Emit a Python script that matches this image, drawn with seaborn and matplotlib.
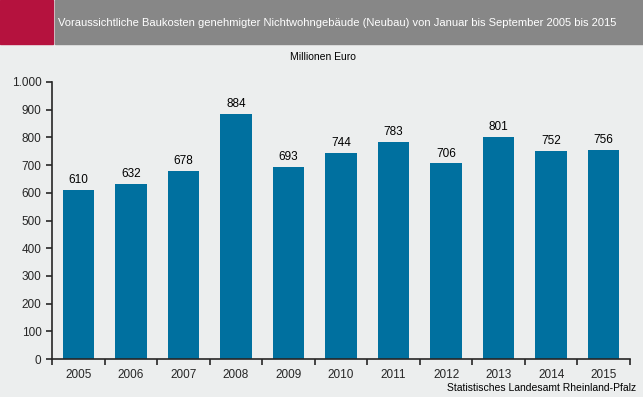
import matplotlib
matplotlib.use("Agg")
import matplotlib.pyplot as plt
import seaborn as sns
import pandas as pd
from matplotlib.patches import Rectangle
from matplotlib.ticker import FixedLocator

years = ["2005", "2006", "2007", "2008", "2009", "2010", "2011", "2012", "2013", "2014", "2015"]
values = [610, 632, 678, 884, 693, 744, 783, 706, 801, 752, 756]
y_ticks = list(range(0, 1001, 100))

title = "Voraussichtliche Baukosten genehmigter Nichtwohngebäude (Neubau) von Januar bis September 2005 bis 2015"
unit = "Millionen Euro"
source = "Statistisches Landesamt Rheinland-Pfalz"

bg = "#eceeee"
bar_color = "#00709f"

sns.set_style("ticks")
plt.rcParams["font.family"] = ["Liberation Sans", "DejaVu Sans"]

fig = plt.figure(figsize=(6.43, 3.97), dpi=100, facecolor=bg)
W, H = 643, 397

# header band
fig.patches.append(Rectangle((0, 1 - 44 / H), 53 / W, 44 / H, transform=fig.transFigure,
                             color="#b5123e", zorder=0))
fig.patches.append(Rectangle((55 / W, 1 - 44 / H), 1 - 55 / W, 44 / H, transform=fig.transFigure,
                             color="#878787", zorder=0))
fig.text(58 / W, 1 - 23 / H, title, color="white", fontsize=8.0, va="center", ha="left")
fig.text(323 / W, 1 - 57 / H, unit, color="black", fontsize=7.5, va="center", ha="center")
fig.text(636 / W, 1 - 388 / H, source, color="black", fontsize=7.5, va="center", ha="right")

ax = fig.add_axes([52 / W, 1 - 359 / H, (630 - 52) / W, (359 - 82) / H])
ax.set_facecolor(bg)

df = pd.DataFrame({"Jahr": years, "Wert": values})
sns.barplot(data=df, x="Jahr", y="Wert", color=bar_color, saturation=1, width=0.6,
            linewidth=0, edgecolor=bar_color, ax=ax)

for i, v in enumerate(values):
    ax.text(i, v + 14, str(v), ha="center", va="bottom", fontsize=8.5, color="black")

ax.set_xlim(-0.5, len(years) - 0.5)
ax.set_ylim(0, 1000)
ax.set_yticks(y_ticks)
ax.set_yticklabels([f"{t:,}".replace(",", ".") for t in y_ticks], fontsize=8.5)
ax.tick_params(axis="x", which="major", length=0, labelsize=8.5, pad=7)
ax.xaxis.set_minor_locator(FixedLocator([i - 0.5 for i in range(len(years) + 1)]))
ax.tick_params(axis="x", which="minor", length=4, width=1.2, direction="out")
ax.tick_params(axis="y", length=4, width=1.2, direction="out")
ax.set_xlabel("")
ax.set_ylabel("")
sns.despine(ax=ax, top=True, right=True)
ax.spines["left"].set_linewidth(1.2)
ax.spines["bottom"].set_linewidth(1.2)

fig.savefig("out.png", dpi=100, facecolor=bg)
